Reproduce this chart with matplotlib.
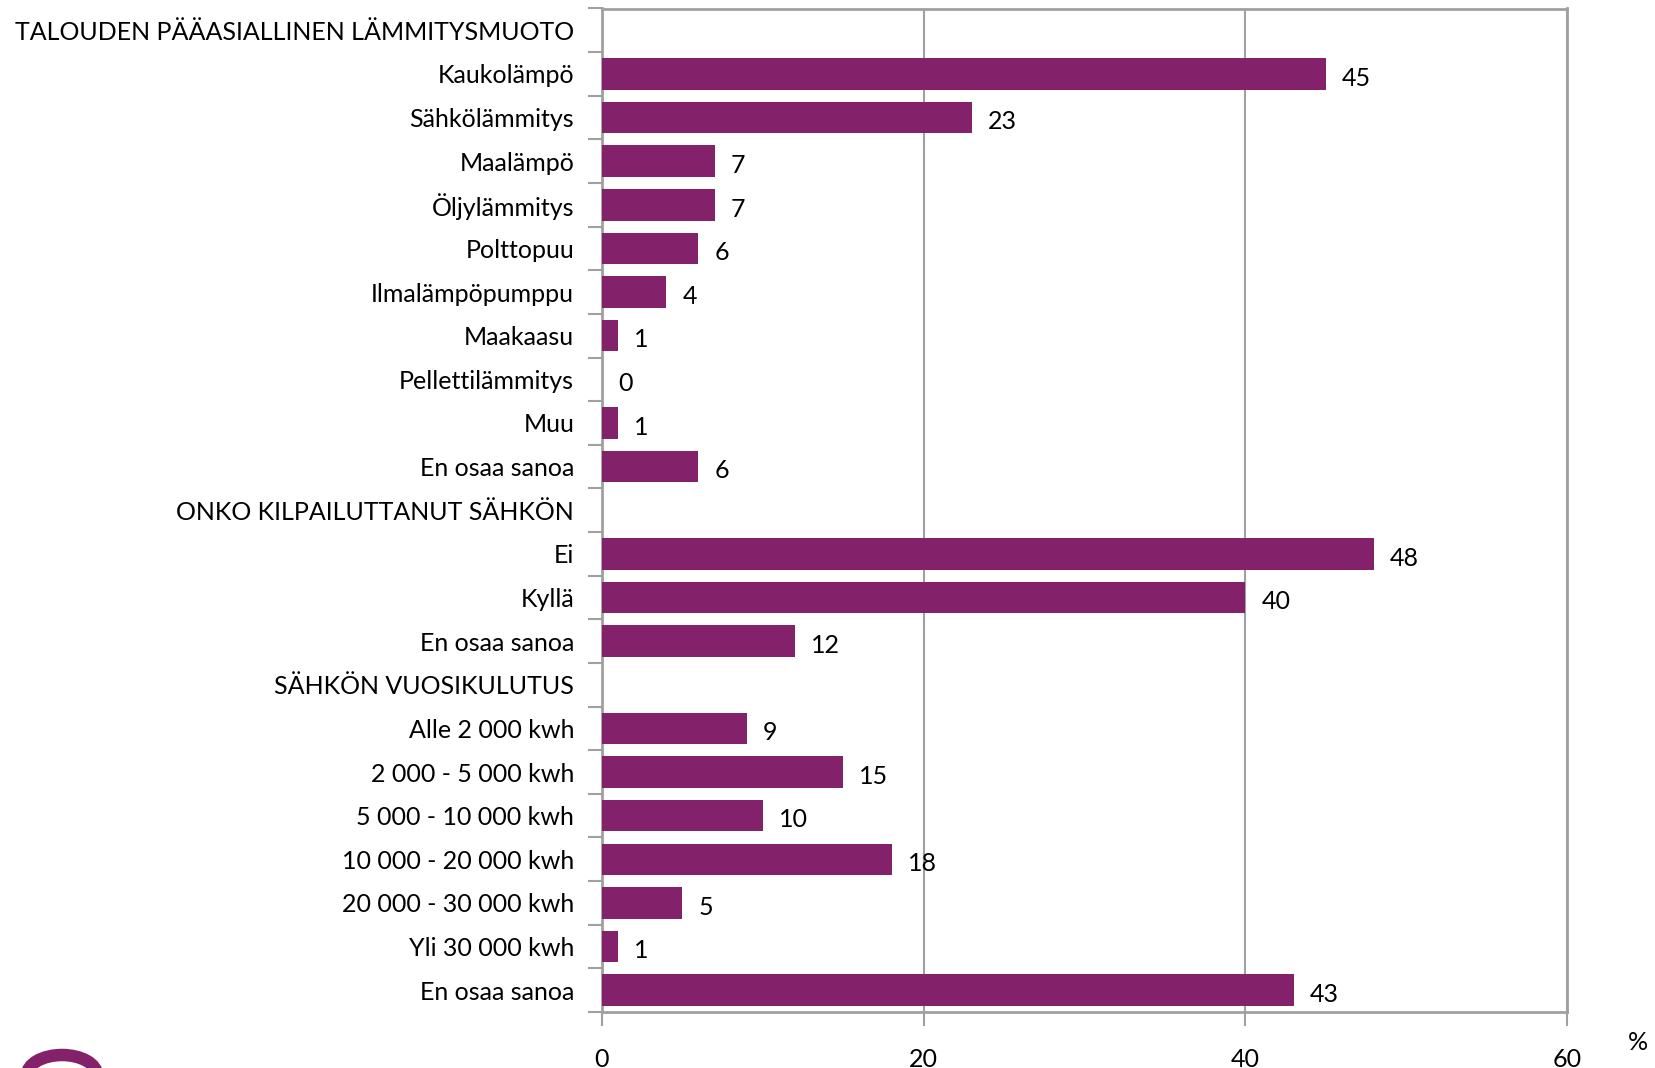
import numpy as np
import matplotlib.pyplot as plt
from matplotlib.patches import Ellipse

# categories, top to bottom (section headers have no bar)
labels = [
    "TALOUDEN PÄÄASIALLINEN LÄMMITYSMUOTO",
    "Kaukolämpö", "Sähkölämmitys", "Maalämpö", "Öljylämmitys", "Polttopuu",
    "Ilmalämpöpumppu", "Maakaasu", "Pellettilämmitys", "Muu", "En osaa sanoa",
    "ONKO KILPAILUTTANUT SÄHKÖN",
    "Ei", "Kyllä", "En osaa sanoa",
    "SÄHKÖN VUOSIKULUTUS",
    "Alle 2 000 kwh", "2 000 - 5 000 kwh", "5 000 - 10 000 kwh",
    "10 000 - 20 000 kwh", "20 000 - 30 000 kwh", "Yli 30 000 kwh", "En osaa sanoa",
]
values = [
    None,
    45, 23, 7, 7, 6, 4, 1, 0, 1, 6,
    None,
    48, 40, 12,
    None,
    9, 15, 10, 18, 5, 1, 43,
]

plt.rcParams['font.family'] = ['Lato', 'DejaVu Sans']
bar_color = '#84216B'
grey = '#A0A0A0'
fs = 18

fig = plt.figure(figsize=(16.56, 10.68), dpi=100)
ax = fig.add_axes([602 / 1656, 1 - 1012 / 1068, (1567 - 602) / 1656, (1012 - 8.5) / 1068])

n = len(labels)
y = np.arange(n)
for yi, v in zip(y, values):
    if v is None:
        continue
    ax.barh(yi, v, height=0.72, color=bar_color, zorder=3)
    ax.text(v + 1.0, yi + 0.05, str(v), va='center_baseline', ha='left', fontsize=fs, zorder=4)

ax.set_xlim(0, 60)
ax.set_ylim(n - 0.5, -0.5)
ax.set_xticks([0, 20, 40, 60])
ax.set_xticklabels(['0', '20', '40', '60'], fontsize=fs)
ax.xaxis.grid(True, color=grey, linewidth=1.5, zorder=0)

# Excel-style ticks at category boundaries
ax.set_yticks(np.arange(n + 1) - 0.5)
ax.set_yticklabels([])
ax.set_yticks(y, minor=True)
ax.set_yticklabels(labels, minor=True, fontsize=fs)
ax.tick_params(axis='y', which='minor', length=0, pad=20)
ax.tick_params(axis='y', which='major', length=10, width=1.5, color=grey, direction='out')
ax.tick_params(axis='x', length=10, width=1.5, color=grey, direction='out', pad=16)

for s in ax.spines.values():
    s.set_color(grey)
    s.set_linewidth(2)

fig.text(1638 / 1656, 1 - 1042 / 1068, '%', fontsize=fs, ha='center', va='center')

# logo fragment at bottom left
fig.patches.append(Ellipse((62 / 1656, 1 - 1075 / 1068), 70 / 1656, 40 / 1068,
                           transform=fig.transFigure, facecolor='none',
                           edgecolor=bar_color, linewidth=9))

fig.savefig('out.png', dpi=100)
